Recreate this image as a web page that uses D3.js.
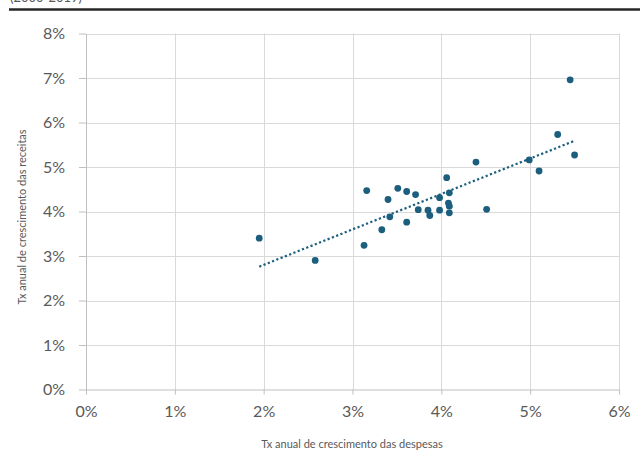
<!DOCTYPE html>
<html>
<head>
<meta charset="utf-8">
<script src="https://cdn.jsdelivr.net/npm/d3@7"></script>
<style>
  html, body { margin: 0; padding: 0; background: #fff; }
  svg { display: block; }
  text { font-family: Lato, "Open Sans", sans-serif; }
</style>
</head>
<body>
<svg id="chart" width="640" height="459"></svg>
<script>
// Annual growth rates (%): expenditure (x) vs revenue (y)
const despesas = [1.95, 2.58, 3.13, 3.16, 3.33, 3.40, 3.42, 3.51, 3.61, 3.61, 3.71, 3.74, 3.85, 3.87,
                  3.98, 3.98, 4.06, 4.09, 4.08, 4.09, 4.09, 4.39, 4.51, 4.99, 5.10, 5.31, 5.45, 5.50];
const receitas = [3.40, 2.90, 3.24, 4.47, 3.59, 4.27, 3.88, 4.52, 4.45, 3.76, 4.38, 4.04, 4.03, 3.91,
                  4.31, 4.03, 4.76, 4.42, 4.19, 4.12, 3.97, 5.11, 4.05, 5.16, 4.91, 5.73, 6.96, 5.27];
const xTicks = [0, 1, 2, 3, 4, 5, 6];
const yTicks = [0, 1, 2, 3, 4, 5, 6, 7, 8];
const xTitle = "Tx anual de crescimento das despesas";
const yTitle = "Tx anual de crescimento das receitas";

const svg = d3.select("#chart");
const plotL = 86, plotR = 619, plotT = 33.5, plotB = 389.5;
const x = d3.scaleLinear().domain([0, 6]).range([plotL, plotR]);
const y = d3.scaleLinear().domain([0, 8]).range([plotB, plotT]);
const grid = "#d9d9d9", labelColor = "#595959", dotColor = "#1b5e7e";

// header rule with the caption line above it (runs off the top edge)
svg.append("text").attr("x", 10).attr("y", 2).attr("font-size", 13).attr("fill", labelColor)
  .text("(2000-2019)");
svg.append("line").attr("x1", 9).attr("x2", 640).attr("y1", 9.5).attr("y2", 9.5)
  .attr("stroke", "#262626").attr("stroke-width", 2.5);

// gridlines
svg.append("g").selectAll("line").data(yTicks.filter(d => d > 0)).join("line")
  .attr("x1", plotL).attr("x2", plotR)
  .attr("y1", d => Math.round(y(d)) + 0.5).attr("y2", d => Math.round(y(d)) + 0.5)
  .attr("stroke", grid);
svg.append("g").selectAll("line").data(xTicks.filter(d => d > 0)).join("line")
  .attr("x1", d => Math.round(x(d)) + 0.5).attr("x2", d => Math.round(x(d)) + 0.5)
  .attr("y1", plotT).attr("y2", plotB)
  .attr("stroke", grid);

// axes
const fmt = d => d + "%";
const xAxis = svg.append("g").attr("transform", `translate(0,${plotB})`)
  .call(d3.axisBottom(x).tickValues(xTicks).tickFormat(fmt).tickSize(5).tickSizeOuter(0).tickPadding(11));
const yAxis = svg.append("g").attr("transform", `translate(${plotL},0)`)
  .call(d3.axisLeft(y).tickValues(yTicks).tickFormat(fmt).tickSize(7).tickSizeOuter(0).tickPadding(14));
[xAxis, yAxis].forEach(a => {
  a.select(".domain").attr("stroke", "#bfbfbf");
  a.selectAll(".tick line").attr("stroke", "#bfbfbf");
  a.selectAll(".tick text").attr("fill", labelColor).attr("font-size", 16)
    .attr("font-family", "Lato, 'Open Sans', sans-serif");
});

// axis titles
svg.append("text").attr("x", 352).attr("y", 448).attr("text-anchor", "middle")
  .attr("font-size", 11).attr("fill", labelColor).text(xTitle);
svg.append("text").attr("transform", `translate(26,217) rotate(-90)`)
  .attr("text-anchor", "middle").attr("font-size", 11).attr("fill", labelColor).text(yTitle);

// linear trend (least squares) over the data range
const pts = despesas.map((d, i) => [d, receitas[i]]);
const mx = d3.mean(despesas), my = d3.mean(receitas);
const slope = d3.sum(pts, p => (p[0] - mx) * (p[1] - my)) / d3.sum(pts, p => (p[0] - mx) ** 2);
const icpt = my - slope * mx;
const [x0, x1] = d3.extent(despesas);
svg.append("line")
  .attr("x1", x(x0)).attr("y1", y(icpt + slope * x0))
  .attr("x2", x(x1)).attr("y2", y(icpt + slope * x1))
  .attr("stroke", dotColor).attr("stroke-width", 2.2)
  .attr("stroke-dasharray", "2.2,2.4");

// points
svg.append("g").selectAll("circle").data(pts).join("circle")
  .attr("cx", d => x(d[0])).attr("cy", d => y(d[1])).attr("r", 3.4)
  .attr("fill", dotColor);
</script>
</body>
</html>
